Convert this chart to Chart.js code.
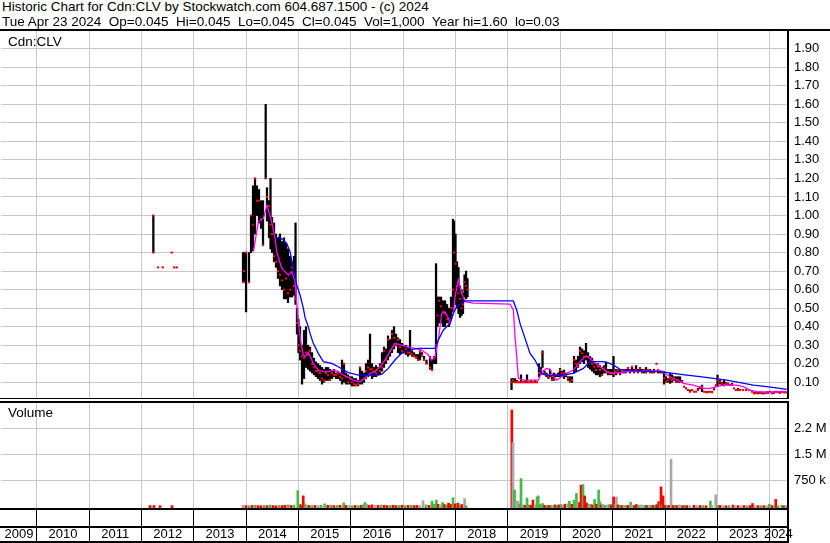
<!DOCTYPE html>
<html><head><meta charset="utf-8">
<script src="https://cdn.jsdelivr.net/npm/chart.js@4.4.1/dist/chart.umd.min.js"></script>
<style>
html,body{margin:0;padding:0;background:#fff;}
#wrap{position:relative;width:830px;height:543px;overflow:hidden;background:#fff;font-family:"Liberation Sans",Arial,sans-serif;color:#000;}
.t{position:absolute;font-size:13.5px;line-height:16px;white-space:pre;}
#pc{position:absolute;left:0;top:29px;}
#vc{position:absolute;left:0;top:401px;}
</style></head>
<body>
<div id="wrap">
<canvas id="pc" width="830" height="370"></canvas>
<canvas id="vc" width="830" height="142"></canvas>
<div class="t" style="left:2px;top:-1px">Historic Chart for Cdn:CLV by Stockwatch.com 604.687.1500 - (c) 2024</div>
<div class="t" style="left:2px;top:14px">Tue Apr 23 2024  Op=0.045  Hi=0.045  Lo=0.045  Cl=0.045  Vol=1,000  Year hi=1.60  lo=0.03</div>
<div class="t" style="left:8px;top:34px">Cdn:CLV</div>
<div class="t" style="left:8px;top:405px">Volume</div>
</div>
<script>
// ---------- axis ranges / ticks ----------
const xMin = 2009.316, xMax = 2024.330;
const yearBoundaries = [2010,2011,2012,2013,2014,2015,2016,2017,2018,2019,2020,2021,2022,2023,2024];
const yearLabels = ['2009','2010','2011','2012','2013','2014','2015','2016','2017','2018','2019','2020','2021','2022','2023','2024'];
const yearLabelPos = [2009.66,2010.5,2011.5,2012.5,2013.5,2014.5,2015.5,2016.5,2017.5,2018.5,2019.5,2020.5,2021.5,2022.5,2023.5,2024.165];
const priceTicks = [0.1,0.2,0.3,0.4,0.5,0.6,0.7,0.8,0.9,1.0,1.1,1.2,1.3,1.4,1.5,1.6,1.7,1.8,1.9];
const volTicks = [750,1500,2250];            // thousands of shares
const volTickLabels = ['750 k','1.5 M','2.2 M'];

// ---------- price bars (date, high, low, close) ----------
const barDates = [
 2012.220,2012.226,2012.315,2012.405,2012.577,2012.621,2012.672,
 2013.939,2013.958,2013.997,2014.053,2014.092,2014.130,2014.168,2014.206,2014.244,2014.283,
 2014.321,2014.372,2014.397,2014.436,2014.464,2014.493,2014.531,2014.569,2014.607,2014.646,
 2014.684,2014.722,2014.760,2014.798,2014.837,2014.875,2014.913,2014.942,2014.970,2014.998,
 2015.028,2015.066,2015.104,2015.142,2015.181,2015.219,2015.257,2015.295,2015.333,2015.372,
 2015.410,2015.448,2015.486,2015.524,2015.563,2015.601,2015.639,2015.677,2015.715,2015.754,
 2015.792,2015.830,2015.868,2015.906,2015.945,2015.983,2016.021,2016.059,2016.097,2016.136,
 2016.174,2016.212,2016.250,2016.288,2016.327,2016.365,2016.403,2016.441,2016.479,2016.518,
 2016.556,2016.594,2016.632,2016.670,2016.709,2016.747,2016.785,2016.823,2016.862,2016.900,
 2016.938,2016.976,2017.014,2017.053,2017.091,2017.129,2017.167,2017.205,2017.244,2017.282,
 2017.320,2017.358,2017.396,2017.444,2017.511,2017.549,2017.587,2017.626,2017.654,2017.683,
 2017.721,2017.759,2017.798,2017.836,2017.874,2017.912,2017.950,2017.969,2017.998,2018.027,
 2018.055,2018.084,2018.113,2018.141,2018.170,2018.199,2018.227,
 2019.068,2019.096,2019.135,2019.173,2019.211,2019.249,2019.287,2019.326,2019.364,2019.402,
 2019.440,2019.479,2019.517,2019.555,2019.593,2019.631,2019.660,2019.698,2019.736,2019.775,
 2019.803,2019.841,2019.880,2019.918,2019.956,2019.994,2020.032,2020.071,2020.109,2020.147,
 2020.185,2020.223,2020.262,2020.300,2020.338,2020.376,2020.415,2020.453,2020.491,2020.529,
 2020.567,2020.606,2020.644,2020.682,2020.720,2020.758,2020.797,2020.835,2020.873,2020.911,
 2020.949,2020.988,2021.016,2021.064,2021.102,2021.140,2021.179,2021.217,2021.255,2021.293,
 2021.331,2021.370,2021.408,2021.446,2021.484,2021.522,2021.561,2021.599,2021.637,2021.675,
 2021.713,2021.752,2021.790,2021.838,2021.866,2021.904,2021.943,2021.981,2022.019,2022.057,
 2022.096,2022.134,2022.172,2022.210,2022.248,2022.287,2022.325,2022.363,2022.401,2022.439,
 2022.478,2022.516,2022.554,2022.592,2022.630,2022.669,2022.707,2022.745,2022.783,2022.821,
 2022.860,2022.898,2022.936,2022.974,2023.003,2023.051,2023.089,2023.127,2023.165,2023.203,
 2023.242,2023.280,2023.318,2023.356,2023.394,2023.433,2023.490,2023.547,2023.605,2023.662,
 2023.700,2023.738,2023.777,2023.815,2023.853,2023.891,2023.929,2023.968,2024.006,2024.044,
 2024.082,2024.120,2024.159,2024.197,2024.235,2024.273,2024.311
];
const barHigh = [
 1.00,1.00,0.72,0.72,0.80,0.72,0.72,
 0.80,0.80,0.80,0.80,1.00,1.16,1.20,1.16,1.14,1.08,
 1.08,1.60,1.15,1.08,1.20,0.99,0.96,0.90,0.88,0.90,
 0.86,0.88,0.85,0.82,0.78,0.75,0.78,0.96,0.50,0.44,
 0.40,0.30,0.38,0.40,0.30,0.29,0.26,0.23,0.21,0.20,
 0.19,0.18,0.17,0.18,0.18,0.17,0.16,0.17,0.15,0.16,
 0.15,0.22,0.20,0.15,0.14,0.13,0.13,0.12,0.12,0.11,
 0.18,0.16,0.15,0.20,0.22,0.36,0.20,0.18,0.19,0.18,
 0.20,0.26,0.29,0.28,0.35,0.33,0.38,0.40,0.36,0.34,
 0.33,0.31,0.30,0.30,0.29,0.38,0.27,0.26,0.25,0.25,
 0.27,0.26,0.24,0.22,0.24,0.22,0.24,0.74,0.56,0.56,
 0.56,0.54,0.54,0.52,0.50,0.56,0.98,0.97,0.90,0.75,
 0.72,0.62,0.60,0.58,0.68,0.70,0.66,
 0.12,0.12,0.12,0.11,0.10,0.14,0.10,0.11,0.14,0.10,
 0.11,0.10,0.11,0.10,0.20,0.18,0.27,0.16,0.15,0.14,
 0.17,0.13,0.15,0.14,0.15,0.175,0.16,0.166,0.15,0.13,
 0.13,0.13,0.24,0.22,0.24,0.29,0.28,0.27,0.31,0.26,
 0.24,0.23,0.21,0.20,0.20,0.19,0.18,0.19,0.21,0.17,
 0.17,0.17,0.24,0.17,0.17,0.17,0.16,0.17,0.17,0.18,
 0.17,0.18,0.17,0.19,0.17,0.18,0.17,0.17,0.18,0.17,
 0.17,0.16,0.17,0.20,0.17,0.16,0.16,0.157,0.13,0.12,
 0.148,0.14,0.13,0.13,0.13,0.13,0.11,0.076,0.07,0.06,
 0.058,0.058,0.05,0.049,0.067,0.076,0.085,0.049,0.05,0.05,
 0.049,0.05,0.067,0.085,0.139,0.11,0.10,0.11,0.10,0.094,
 0.085,0.094,0.067,0.058,0.067,0.06,0.058,0.058,0.06,0.049,
 0.046,0.049,0.046,0.046,0.046,0.045,0.046,0.049,0.049,0.046,
 0.049,0.05,0.049,0.049,0.05,0.049,0.045
];
const barLow = [
 1.00,0.80,0.72,0.72,0.80,0.72,0.72,
 0.64,0.64,0.48,0.64,0.80,0.81,0.90,1.00,0.96,0.93,
 0.84,1.20,0.97,0.88,0.82,0.80,0.75,0.72,0.66,0.62,
 0.60,0.55,0.55,0.53,0.56,0.56,0.57,0.52,0.36,0.26,
 0.22,0.09,0.12,0.18,0.17,0.16,0.15,0.14,0.13,0.12,
 0.11,0.09,0.10,0.11,0.11,0.12,0.12,0.13,0.12,0.12,
 0.11,0.09,0.10,0.09,0.09,0.09,0.08,0.08,0.08,0.08,
 0.09,0.09,0.10,0.12,0.13,0.14,0.12,0.13,0.13,0.14,
 0.14,0.16,0.18,0.20,0.22,0.24,0.26,0.28,0.30,0.26,
 0.25,0.26,0.26,0.25,0.24,0.25,0.24,0.24,0.23,0.22,
 0.22,0.24,0.22,0.20,0.17,0.165,0.20,0.20,0.40,0.42,
 0.42,0.40,0.40,0.42,0.40,0.44,0.48,0.55,0.52,0.50,
 0.47,0.45,0.46,0.47,0.56,0.55,0.56,
 0.06,0.10,0.10,0.10,0.10,0.10,0.10,0.10,0.10,0.10,
 0.10,0.10,0.10,0.10,0.13,0.14,0.18,0.14,0.13,0.12,
 0.13,0.11,0.11,0.13,0.13,0.13,0.13,0.12,0.13,0.11,
 0.10,0.10,0.15,0.16,0.18,0.20,0.21,0.20,0.22,0.18,
 0.17,0.16,0.15,0.14,0.14,0.13,0.14,0.15,0.15,0.14,
 0.14,0.14,0.13,0.14,0.15,0.14,0.15,0.15,0.15,0.16,
 0.15,0.16,0.15,0.16,0.15,0.16,0.15,0.15,0.15,0.16,
 0.15,0.15,0.15,0.20,0.15,0.15,0.15,0.09,0.10,0.10,
 0.094,0.10,0.11,0.10,0.10,0.098,0.10,0.076,0.067,0.058,
 0.049,0.058,0.049,0.049,0.058,0.067,0.049,0.049,0.046,0.046,
 0.049,0.046,0.058,0.076,0.076,0.09,0.085,0.08,0.09,0.085,
 0.085,0.085,0.067,0.058,0.058,0.058,0.058,0.058,0.058,0.049,
 0.04,0.04,0.04,0.04,0.04,0.04,0.04,0.04,0.045,0.04,
 0.04,0.045,0.045,0.04,0.045,0.045,0.045
];
const barClose = [
 1.00,0.80,0.72,0.72,0.80,0.72,0.72,
 0.64,0.70,0.80,0.64,1.00,0.95,1.20,1.08,1.08,0.98,
 0.84,1.20,1.10,1.05,0.95,0.90,0.78,0.75,0.70,0.68,
 0.65,0.60,0.66,0.58,0.60,0.72,0.62,0.55,0.42,0.30,
 0.27,0.24,0.23,0.26,0.25,0.27,0.20,0.18,0.16,0.16,
 0.15,0.12,0.11,0.15,0.14,0.112,0.15,0.14,0.14,0.148,
 0.13,0.12,0.20,0.13,0.10,0.12,0.10,0.09,0.085,0.09,
 0.18,0.11,0.12,0.16,0.18,0.17,0.17,0.16,0.15,0.14,
 0.16,0.18,0.27,0.22,0.33,0.27,0.36,0.34,0.30,0.33,
 0.29,0.27,0.26,0.28,0.26,0.26,0.25,0.24,0.235,0.22,
 0.265,0.247,0.22,0.20,0.18,0.166,0.23,0.30,0.46,0.54,
 0.51,0.48,0.47,0.44,0.42,0.50,0.60,0.80,0.74,0.62,
 0.58,0.55,0.50,0.52,0.64,0.62,0.60,
 0.10,0.11,0.10,0.10,0.10,0.10,0.10,0.10,0.10,0.10,
 0.10,0.10,0.10,0.10,0.15,0.166,0.26,0.148,0.14,0.13,
 0.14,0.112,0.12,0.14,0.139,0.166,0.148,0.148,0.139,0.12,
 0.103,0.112,0.22,0.20,0.184,0.27,0.256,0.238,0.24,0.238,
 0.211,0.20,0.184,0.166,0.184,0.166,0.139,0.175,0.157,0.157,
 0.148,0.148,0.148,0.157,0.166,0.148,0.157,0.166,0.157,0.175,
 0.166,0.184,0.157,0.166,0.157,0.175,0.157,0.166,0.157,0.166,
 0.157,0.157,0.157,0.20,0.166,0.157,0.157,0.121,0.103,0.11,
 0.121,0.112,0.121,0.103,0.112,0.103,0.103,0.076,0.067,0.058,
 0.049,0.058,0.049,0.049,0.058,0.067,0.076,0.049,0.046,0.046,
 0.049,0.046,0.067,0.085,0.112,0.103,0.094,0.085,0.094,0.094,
 0.085,0.085,0.067,0.058,0.058,0.058,0.058,0.058,0.058,0.049,
 0.04,0.046,0.04,0.046,0.04,0.04,0.046,0.046,0.049,0.04,
 0.046,0.049,0.046,0.046,0.049,0.045,0.045
];

// ---------- moving averages ----------
const maFastDates = [
 2014.137,2014.232,2014.328,2014.397,2014.487,2014.550,2014.583,2014.678,2014.741,2014.804,
 2014.869,2014.932,2014.951,2014.995,2015.041,2015.091,2015.123,2015.186,2015.282,2015.377,
 2015.473,2015.568,2015.664,2015.759,2015.855,2015.950,2016.044,2016.172,2016.267,2016.363,
 2016.459,2016.554,2016.650,2016.745,2016.841,2016.969,2017.097,2017.224,2017.352,2017.480,
 2017.544,2017.607,2017.670,2017.703,2017.735,2017.798,2017.861,2017.894,2017.957,2017.989,
 2018.051,2018.116,2018.180,2018.339,2019.040,2019.103,2019.135,2019.168,2019.198,2019.294,
 2019.580,2019.645,2019.741,2019.804,2019.867,2019.932,2020.027,2020.122,2020.249,2020.376,
 2020.472,2020.535,2020.630,2020.758,2020.886,2021.012,2021.268,2021.776,2021.904,2022.000,
 2022.096,2022.223,2022.350,2022.541,2022.732,2022.860,2022.988,2023.114,2023.370,2023.497,
 2023.623,2023.751,2023.942,2024.324
];
const maFastValues = [
 0.805,0.966,0.984,1.056,0.966,0.877,0.805,0.715,0.697,0.679,
 0.697,0.643,0.571,0.427,0.319,0.247,0.238,0.262,0.202,0.166,
 0.157,0.157,0.166,0.157,0.139,0.126,0.112,0.103,0.121,0.148,
 0.157,0.184,0.220,0.265,0.310,0.300,0.290,0.283,0.274,0.247,
 0.220,0.238,0.328,0.400,0.472,0.480,0.445,0.418,0.472,0.562,
 0.652,0.580,0.535,0.527,0.522,0.490,0.346,0.238,0.121,0.112,
 0.112,0.157,0.175,0.170,0.130,0.112,0.130,0.148,0.166,0.211,
 0.238,0.238,0.211,0.184,0.157,0.148,0.157,0.162,0.162,0.148,
 0.130,0.112,0.094,0.085,0.067,0.067,0.076,0.085,0.085,0.076,
 0.058,0.049,0.046,0.049
];
const maSlowDates = [
 2014.613,2014.708,2014.773,2014.837,2014.900,2014.965,2015.028,2015.091,2015.123,2015.186,
 2015.219,2015.282,2015.377,2015.473,2015.633,2015.759,2015.950,2016.141,2016.397,2016.588,
 2016.714,2016.841,2016.969,2017.097,2017.288,2017.607,2017.670,2017.766,2017.894,2017.957,
 2018.021,2018.116,2018.180,2019.102,2019.167,2019.230,2019.294,2019.358,2019.421,2019.517,
 2019.580,2019.645,2019.741,2019.994,2020.249,2020.440,2020.567,2020.822,2020.949,2021.045,
 2021.140,2021.395,2021.904,2022.159,2022.415,2022.669,2022.923,2023.178,2023.433,2023.688,
 2023.942,2024.197,2024.324
];
const maSlowValues = [
 0.886,0.868,0.850,0.805,0.715,0.625,0.571,0.500,0.450,0.400,
 0.364,0.310,0.256,0.211,0.202,0.184,0.152,0.139,0.139,0.143,
 0.175,0.220,0.256,0.274,0.283,0.283,0.328,0.382,0.418,0.472,
 0.508,0.526,0.539,0.539,0.490,0.418,0.364,0.310,0.256,0.220,
 0.184,0.148,0.137,0.137,0.148,0.175,0.211,0.211,0.202,0.188,
 0.170,0.161,0.157,0.148,0.139,0.130,0.121,0.112,0.098,0.085,
 0.076,0.067,0.062
];

// ---------- volume (thousands of shares); dir: 1 up, -1 down, 0 unchanged ----------
const volDates = [
 2012.162,2012.239,2012.353,2012.583,
 2013.939,2013.996,2014.053,2014.111,2014.168,2014.225,2014.283,2014.340,2014.397,2014.455,
 2014.512,2014.569,2014.627,2014.684,2014.741,2014.798,2014.856,2014.913,2014.986,2015.018,
 2015.047,2015.089,2015.123,2015.161,2015.200,2015.257,2015.314,2015.372,2015.429,2015.498,
 2015.524,2015.563,2015.620,2015.677,2015.735,2015.792,2015.861,2015.906,2015.964,2016.021,
 2016.078,2016.136,2016.193,2016.231,2016.269,2016.304,2016.346,2016.403,2016.460,2016.518,
 2016.575,2016.632,2016.690,2016.747,2016.804,2016.862,2016.919,2016.976,2017.033,2017.091,
 2017.148,2017.205,2017.263,2017.320,2017.377,2017.434,2017.492,2017.549,2017.587,2017.633,
 2017.664,2017.702,2017.750,2017.788,2017.826,2017.866,2017.902,2017.950,2017.989,2018.044,
 2018.084,2018.122,2018.172,2018.199,
 2019.074,2019.096,2019.127,2019.163,2019.192,2019.221,2019.249,2019.287,2019.326,2019.364,
 2019.402,2019.440,2019.477,2019.517,2019.555,2019.578,2019.612,2019.660,2019.698,2019.746,
 2019.784,2019.822,2019.860,2019.899,2019.937,2019.975,2020.013,2020.052,2020.090,2020.138,
 2020.172,2020.220,2020.262,2020.308,2020.338,2020.367,2020.395,2020.434,2020.464,2020.499,
 2020.529,2020.548,2020.581,2020.615,2020.655,2020.692,2020.732,2020.758,2020.787,2020.814,
 2020.854,2020.902,2020.940,2020.978,2021.018,2021.045,2021.072,2021.102,2021.140,2021.179,
 2021.217,2021.255,2021.293,2021.345,2021.379,2021.417,2021.454,2021.494,2021.532,2021.570,
 2021.618,2021.656,2021.694,2021.733,2021.771,2021.809,2021.843,2021.878,2021.904,2021.924,
 2021.943,2021.962,2022.000,2022.038,2022.076,2022.115,2022.153,2022.191,2022.229,2022.267,
 2022.306,2022.344,2022.382,2022.420,2022.478,2022.554,2022.611,2022.669,2022.726,2022.783,
 2022.867,2022.898,2022.968,2023.012,2023.051,2023.108,2023.165,2023.222,2023.297,2023.337,
 2023.394,2023.452,2023.509,2023.566,2023.623,2023.671,2023.719,2023.777,2023.834,2023.891,
 2023.949,2023.992,2024.044,2024.115,2024.159,2024.231,2024.273,2024.311
];
const volK = [
 20,25,15,20,
 30,20,15,25,30,20,15,25,20,35,
 20,15,25,20,30,40,25,35,450,60,
 40,300,70,30,25,20,25,20,30,70,
 40,25,30,20,25,30,100,25,20,15,
 25,20,30,40,110,60,30,40,25,30,
 35,30,20,25,30,20,25,30,20,25,
 30,20,25,20,160,40,30,150,60,180,
 60,40,110,50,40,90,60,250,70,90,
 40,50,220,20,
 2780,1835,470,150,150,60,800,40,30,240,
 40,30,180,40,270,300,60,80,30,20,
 25,30,20,40,30,40,50,35,60,70,
 150,60,180,370,130,100,610,630,300,100,
 60,50,50,40,200,60,470,130,40,60,
 30,40,50,40,270,60,270,40,30,25,
 30,20,30,120,30,25,50,30,40,30,
 30,25,30,20,30,20,50,130,80,560,
 40,300,30,20,25,1356,25,30,20,40,
 30,20,25,20,15,30,20,25,20,15,
 150,20,330,30,25,20,15,20,35,15,
 20,15,20,15,20,80,15,20,15,20,
 15,60,20,200,15,30,15,20
];
const volDir = [
 -1,-1,-1,-1,
 0,-1,1,-1,1,-1,-1,1,-1,1,
 -1,-1,1,-1,-1,1,-1,1,1,1,
 -1,-1,1,0,-1,1,-1,0,1,1,
 0,-1,1,-1,1,-1,1,-1,0,1,
 -1,1,-1,1,1,0,-1,-1,0,-1,
 1,-1,-1,1,-1,-1,1,-1,1,-1,
 1,-1,-1,0,0,1,-1,1,1,1,
 -1,0,1,-1,1,-1,-1,1,-1,-1,
 1,-1,0,1,
 -1,0,1,0,0,1,1,0,-1,1,
 1,-1,-1,0,1,1,1,1,-1,1,
 -1,1,0,-1,1,-1,1,0,-1,0,
 1,-1,1,1,0,-1,-1,1,-1,-1,
 -1,0,1,-1,1,-1,1,1,-1,0,
 1,0,1,-1,-1,1,0,-1,1,-1,
 0,1,-1,1,0,-1,-1,1,0,0,
 1,-1,0,1,-1,1,-1,-1,1,-1,
 1,-1,-1,1,-1,0,-1,1,-1,0,
 0,-1,1,-1,0,-1,0,-1,1,-1,
 1,0,0,1,-1,0,-1,1,-1,0,
 -1,0,-1,1,-1,-1,0,-1,1,-1,
 0,1,-1,-1,1,1,-1,0
];

// ---------- drawing ----------
const FONT = {family:'"Liberation Sans", Arial, sans-serif', size:13};
const GRID = '#c8c8c8';
const volMin = -78, volMax = 2980;

const framePrice = {
  id:'framePrice',
  afterDraw(c){
    const ctx=c.ctx, a=c.chartArea;
    ctx.save(); ctx.fillStyle='#000';
    ctx.fillRect(0, a.top-1, c.width, 2);
    ctx.fillRect(0, a.bottom-1, a.right+2, 1);
    ctx.fillRect(a.right, 0, 2, c.height);
    ctx.restore();
  }
};
const frameVol = {
  id:'frameVol',
  afterDraw(c){
    const ctx=c.ctx, a=c.chartArea;
    ctx.save(); ctx.fillStyle='#000';
    ctx.fillRect(0, 0, a.right+2, 2);
    ctx.fillRect(0, a.bottom-1, a.right+2, 2);
    ctx.fillRect(0, a.bottom+17, a.right+2, 2);
    ctx.fillRect(0, a.bottom+32, a.right+2, 2);
    ctx.fillRect(a.right, 0, 2, c.height);
    ctx.restore();
  }
};

const noPad = s => { s.paddingTop = 0; s.paddingBottom = 0; s.paddingLeft = 0; s.paddingRight = 0; };
const base = {
  responsive:false, animation:false, devicePixelRatio:1, events:[],
  plugins:{legend:{display:false}, tooltip:{enabled:false}}
};

new Chart(document.getElementById('pc'), {
  type:'bar',
  data:{datasets:[
    {type:'line', data:maSlowDates.map((d,i)=>({x:d,y:maSlowValues[i]})), borderColor:'#0000ff', borderWidth:1.3, pointRadius:0, tension:0, fill:false, order:1},
    {type:'line', data:maFastDates.map((d,i)=>({x:d,y:maFastValues[i]})), borderColor:'#ff00ff', borderWidth:1.3, pointRadius:0, tension:0, fill:false, order:2},
    {type:'line', data:barDates.map((d,i)=>({x:d,y:barClose[i]})), showLine:false, pointStyle:'rect', pointRadius:1.45, backgroundColor:'#ff0000', borderWidth:0, order:3},
    {type:'bar', data:barDates.map((d,i)=>({x:d,y:[barLow[i],barHigh[i]]})), backgroundColor:'#000', barThickness:1.6, grouped:false, order:4}
  ]},
  options:Object.assign({}, base, {
    layout:{autoPadding:false, padding:{top:1,left:1,right:0,bottom:0}},
    scales:{
      x:{type:'linear', min:xMin, max:xMax, offset:false,
         afterBuildTicks:s=>{s.ticks=yearBoundaries.map(v=>({value:v}));},
         ticks:{display:false}, grid:{color:GRID, drawTicks:false, offset:false}, border:{display:false},
         afterFit:s=>{s.height=0; noPad(s);}},
      y:{type:'linear', position:'right', min:0.0097, max:2.001,
         afterBuildTicks:s=>{s.ticks=priceTicks.map(v=>({value:v}));},
         ticks:{callback:v=>Number(v).toFixed(2), color:'#000', font:FONT, padding:7},
         grid:{color:GRID, drawTicks:false}, border:{display:false},
         afterFit:s=>{s.width=43; noPad(s);}}
    }
  }),
  plugins:[framePrice]
});

new Chart(document.getElementById('vc'), {
  type:'bar',
  data:{datasets:[
    {type:'bar', xAxisID:'x', yAxisID:'y',
     data:volDates.map((d,i)=>({x:d,y:[volMin,volK[i]]})),
     backgroundColor:volDir.map(v=>v>0?'#44bb44':(v<0?'#ff0000':'#a8a8a8')),
     barThickness:2, grouped:false}
  ]},
  options:Object.assign({}, base, {
    layout:{autoPadding:false, padding:{top:2,left:1,right:0,bottom:0}},
    scales:{
      x:{type:'linear', position:'bottom', weight:0, min:xMin, max:xMax, offset:false,
         afterBuildTicks:s=>{s.ticks=yearBoundaries.map(v=>({value:v}));},
         ticks:{display:false},
         grid:{color:GRID, tickColor:'#000', tickLength:34, drawTicks:true, offset:false},
         border:{display:false},
         afterFit:s=>{s.height=18; noPad(s);}},
      xl:{type:'linear', position:'bottom', weight:1, min:xMin, max:xMax, offset:false,
         afterBuildTicks:s=>{s.ticks=yearLabelPos.map(v=>({value:v}));},
         ticks:{autoSkip:false, maxRotation:0, minRotation:0, padding:0, color:'#000', font:FONT,
                callback:(v,i)=>yearLabels[i]},
         grid:{display:false, drawTicks:false}, border:{display:false},
         afterFit:s=>{s.height=16; noPad(s);}},
      y:{type:'linear', position:'right', min:volMin, max:volMax,
         afterBuildTicks:s=>{s.ticks=volTicks.map(v=>({value:v}));},
         ticks:{callback:(v,i)=>volTickLabels[i], color:'#000', font:FONT, padding:7},
         grid:{color:GRID, drawTicks:false}, border:{display:false},
         afterFit:s=>{s.width=43; noPad(s);}}
    }
  }),
  plugins:[frameVol]
});
</script>
</body></html>
